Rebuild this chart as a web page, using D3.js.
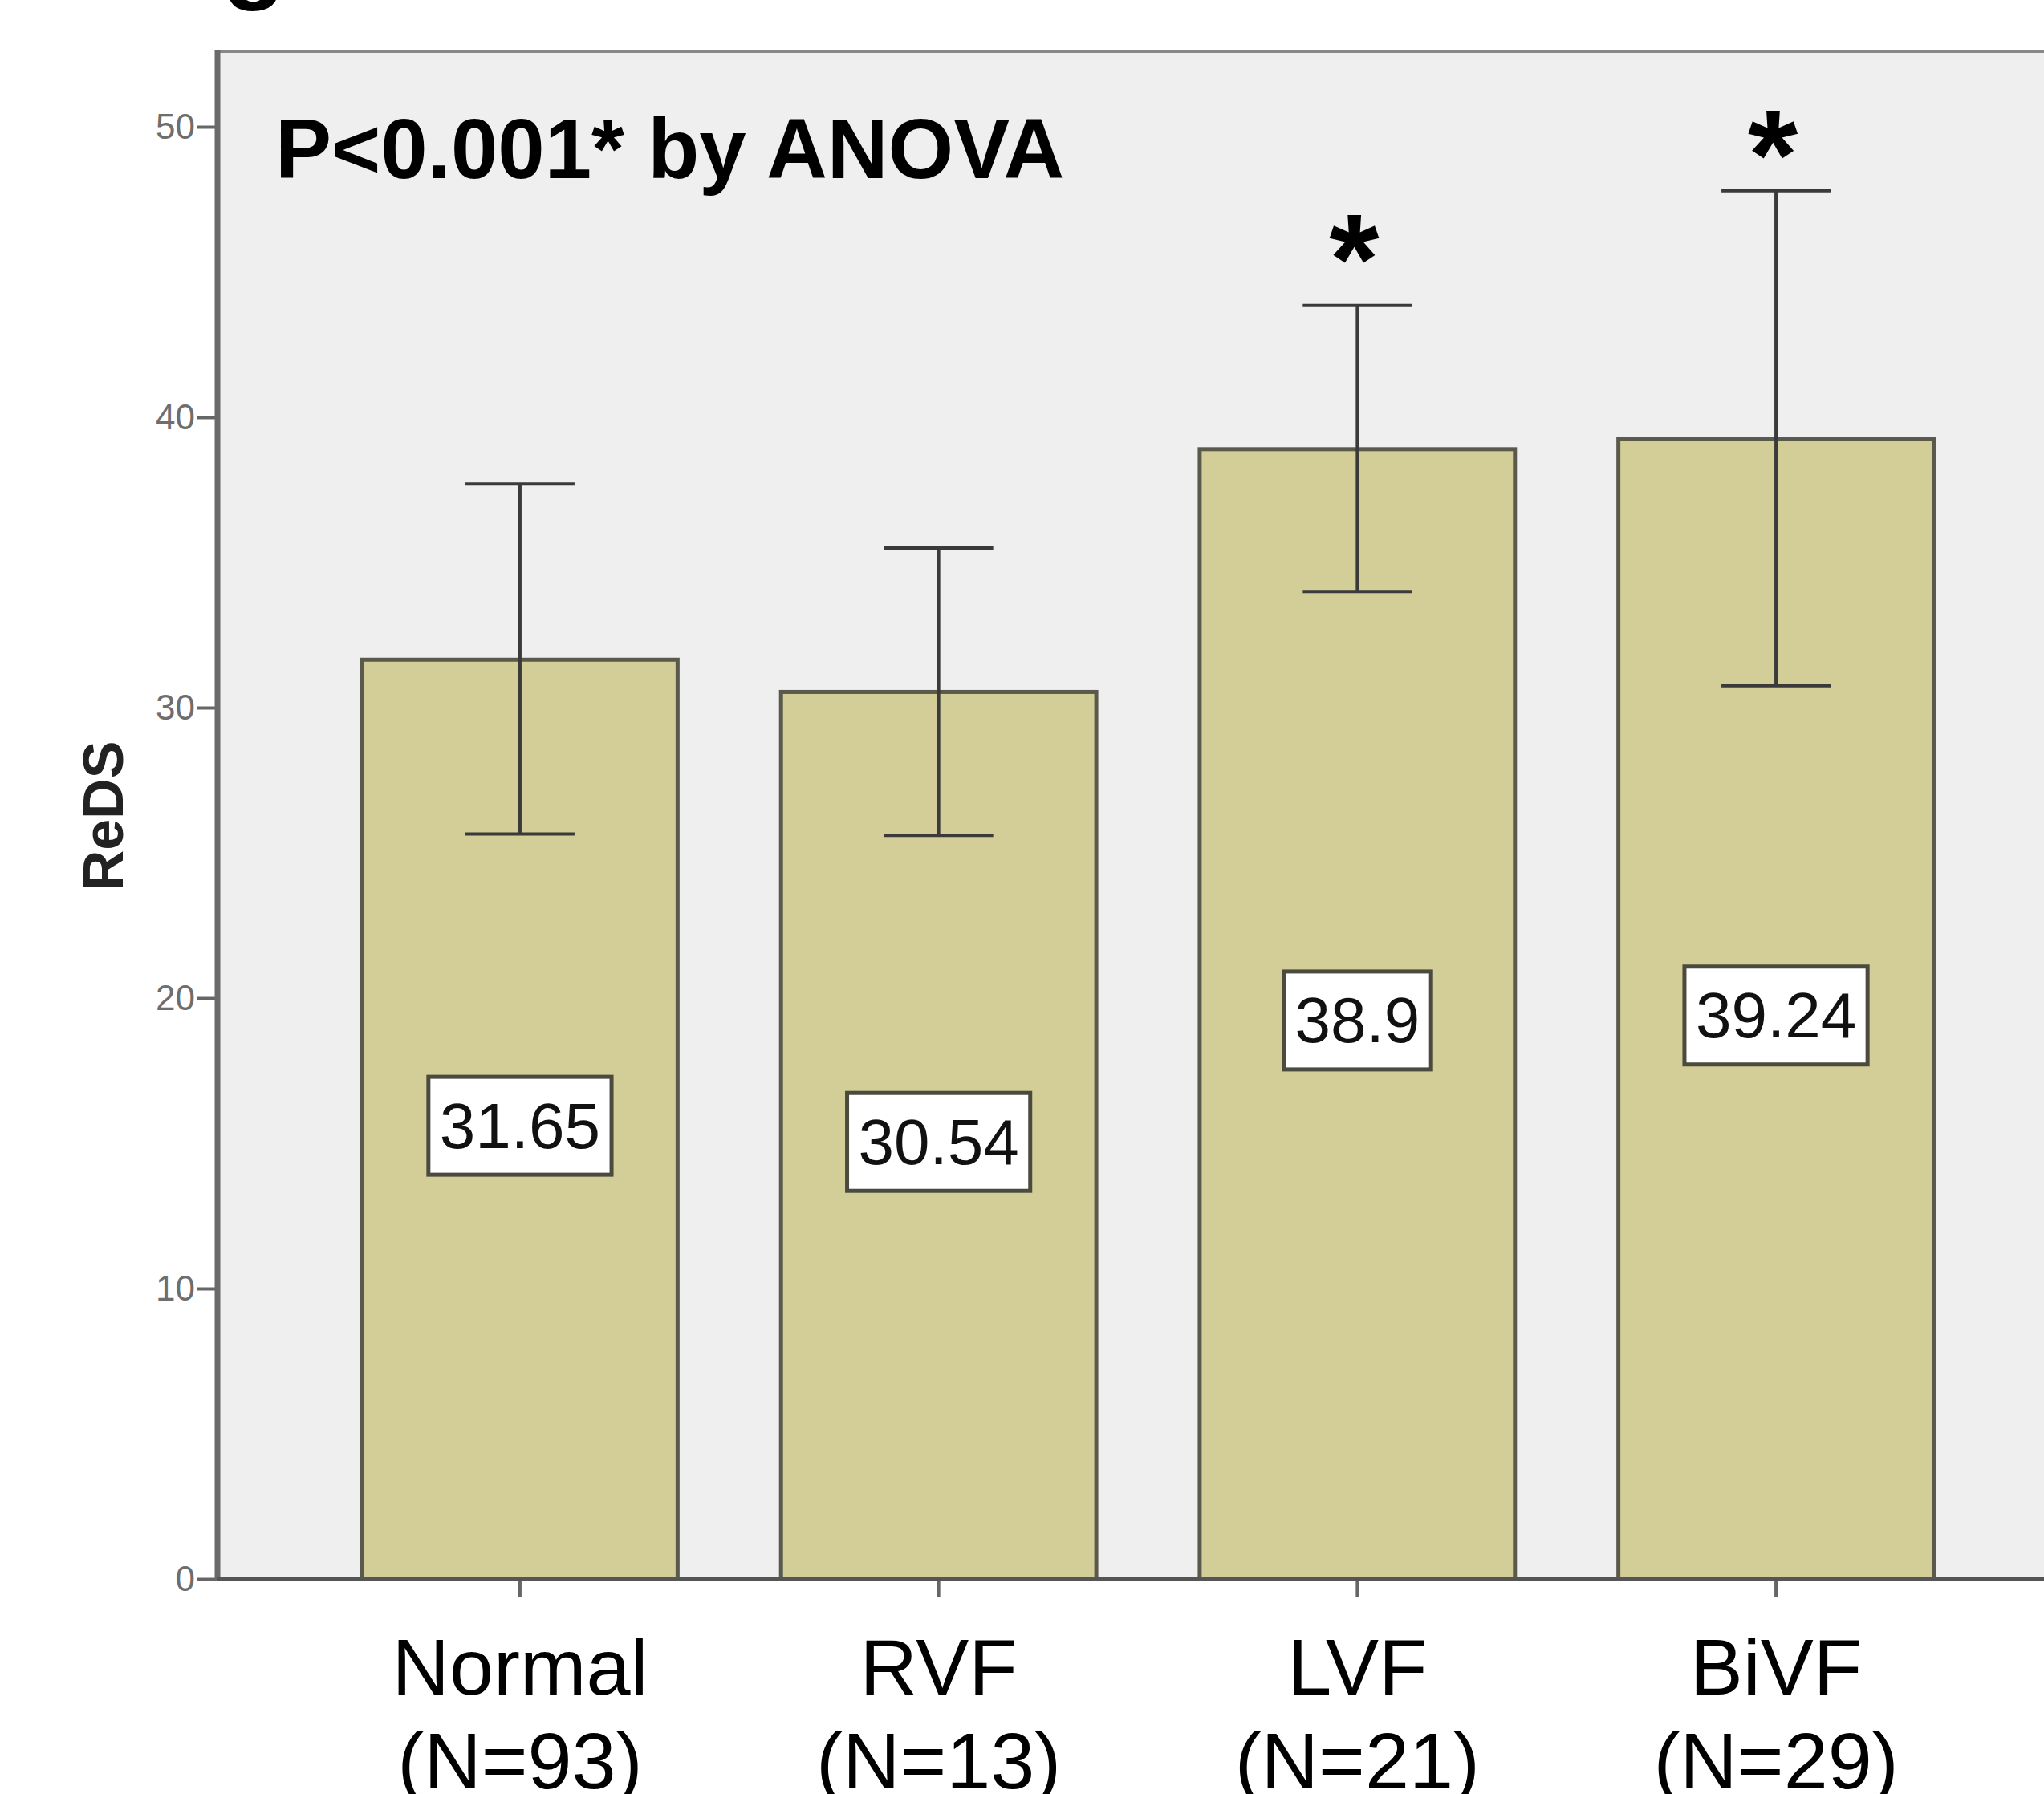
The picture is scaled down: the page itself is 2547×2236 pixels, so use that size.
<!DOCTYPE html>
<html>
<head>
<meta charset="utf-8">
<script src="https://cdn.jsdelivr.net/npm/d3@7"></script>
<style>
  html, body { margin: 0; padding: 0; background: #ffffff; overflow: hidden; }
  svg { display: block; }
</style>
</head>
<body>
<script>
// ---------- data ----------
const categories = ["Normal", "RVF", "LVF", "BiVF"];
const sampleSizes = ["(N=93)", "(N=13)", "(N=21)", "(N=29)"];
const means = [31.65, 30.54, 38.9, 39.24];
const errLow = [25.65, 25.6, 34.0, 30.75];
const errHigh = [37.7, 35.5, 43.85, 47.8];
const meanLabels = ["31.65", "30.54", "38.9", "39.24"];
const sigMarks = ["", "", "*", "*"];
const sigLevels = [null, null, 46.3, 49.9];
const yTicks = [0, 10, 20, 30, 40, 50];
const yTitle = "ReDS";
const annotation = "P<0.001* by ANOVA";

// ---------- layout ----------
const W = 2547, H = 2236;
const svg = d3.select("body").append("svg").attr("width", W).attr("height", H);

const plotLeft = 271, plotRight = 2590, plotBottom = 1968, plotTop = 64;
const y = d3.scaleLinear().domain([0, 50]).range([plotBottom, 158]);
const x = d3.scaleBand().domain(categories).range([plotLeft, plotRight])
  .paddingInner(0.247).paddingOuter(0.346);

const font = "'Liberation Sans', Arial, Helvetica, sans-serif";

// partial figure title cut at the top
svg.append("text").attr("x", 277).attr("y", -14)
  .attr("font-family", font).attr("font-weight", "bold").attr("font-size", 130)
  .attr("fill", "#000").text("g");

// plot background
svg.append("rect").attr("x", plotLeft).attr("y", plotTop)
  .attr("width", plotRight - plotLeft).attr("height", plotBottom - plotTop)
  .attr("fill", "#efefef");

// frame top line
svg.append("line").attr("x1", plotLeft).attr("x2", plotRight)
  .attr("y1", plotTop).attr("y2", plotTop)
  .attr("stroke", "#888").attr("stroke-width", 4);

// bars
svg.append("g").selectAll("rect").data(categories).join("rect")
  .attr("x", d => x(d)).attr("y", (d, i) => y(means[i]))
  .attr("width", x.bandwidth()).attr("height", (d, i) => y(0) - y(means[i]))
  .attr("fill", "#d3ce97").attr("stroke", "#5a5a4c").attr("stroke-width", 5);

// error bars
const capHalf = 68;
const eg = svg.append("g").attr("stroke", "#3a3a3a").attr("stroke-width", 4);
categories.forEach((c, i) => {
  const cx = x(c) + x.bandwidth() / 2;
  eg.append("line").attr("x1", cx).attr("x2", cx).attr("y1", y(errLow[i])).attr("y2", y(errHigh[i]));
  eg.append("line").attr("x1", cx - capHalf).attr("x2", cx + capHalf).attr("y1", y(errHigh[i])).attr("y2", y(errHigh[i]));
  eg.append("line").attr("x1", cx - capHalf).attr("x2", cx + capHalf).attr("y1", y(errLow[i])).attr("y2", y(errLow[i]));
});

// value label boxes
categories.forEach((c, i) => {
  const cx = x(c) + x.bandwidth() / 2;
  const cy = y(means[i] / 2) + 8;
  const g = svg.append("g");
  const rect = g.append("rect");
  const t = g.append("text").attr("x", cx).attr("y", cy)
    .attr("text-anchor", "middle").attr("dominant-baseline", "central")
    .attr("font-family", font).attr("font-size", 80).attr("fill", "#111")
    .text(meanLabels[i]);
  const bb = t.node().getBBox();
  const bw = bb.width + 28, bh = 122;
  rect.attr("x", cx - bw / 2).attr("y", cy - bh / 2).attr("width", bw).attr("height", bh)
    .attr("fill", "#ffffff").attr("stroke", "#4a4a3e").attr("stroke-width", 5);
});

// significance asterisks
categories.forEach((c, i) => {
  if (!sigMarks[i]) return;
  const cx = x(c) + x.bandwidth() / 2 - 4;
  svg.append("text").attr("x", cx).attr("y", y(sigLevels[i]) + 0.54 * 160)
    .attr("text-anchor", "middle").attr("font-family", font)
    .attr("font-weight", "bold").attr("font-size", 160).attr("fill", "#000")
    .text(sigMarks[i]);
});

// y axis
const yAxis = d3.axisLeft(y).tickValues(yTicks).tickSize(26).tickPadding(2).tickFormat(d3.format("d"));
const yg = svg.append("g").attr("transform", `translate(${plotLeft},0)`).call(yAxis);
yg.select(".domain").remove();
yg.selectAll(".tick line").attr("stroke", "#666").attr("stroke-width", 4);
yg.selectAll(".tick text").attr("font-family", font).attr("font-size", 44)
  .attr("fill", "#6e6e6e");
svg.append("line").attr("x1", plotLeft).attr("x2", plotLeft)
  .attr("y1", plotTop - 2).attr("y2", plotBottom + 2)
  .attr("stroke", "#6a6a6a").attr("stroke-width", 7);

// x axis
const xAxis = d3.axisBottom(x).tickSize(22).tickFormat("");
const xg = svg.append("g").attr("transform", `translate(0,${plotBottom})`).call(xAxis);
xg.select(".domain").remove();
xg.selectAll(".tick line").attr("stroke", "#666").attr("stroke-width", 4);
svg.append("line").attr("x1", plotLeft).attr("x2", plotRight)
  .attr("y1", plotBottom).attr("y2", plotBottom)
  .attr("stroke", "#555").attr("stroke-width", 6);

// x labels (two lines)
categories.forEach((c, i) => {
  const cx = x(c) + x.bandwidth() / 2;
  svg.append("text").attr("x", cx).attr("y", 2112).attr("text-anchor", "middle")
    .attr("font-family", font).attr("font-size", 99).attr("fill", "#000").text(c);
  svg.append("text").attr("x", cx).attr("y", 2229).attr("text-anchor", "middle")
    .attr("font-family", font).attr("font-size", 99).attr("fill", "#000").text(sampleSizes[i]);
});

// y title
svg.append("text").attr("transform", `translate(153,1017) rotate(-90)`)
  .attr("text-anchor", "middle").attr("font-family", font).attr("font-weight", "bold")
  .attr("font-size", 70).attr("fill", "#222").text(yTitle);

// annotation
svg.append("text").attr("x", 343).attr("y", 222)
  .attr("font-family", font).attr("font-weight", "bold").attr("font-size", 105)
  .attr("fill", "#000").text(annotation);
</script>
</body>
</html>
